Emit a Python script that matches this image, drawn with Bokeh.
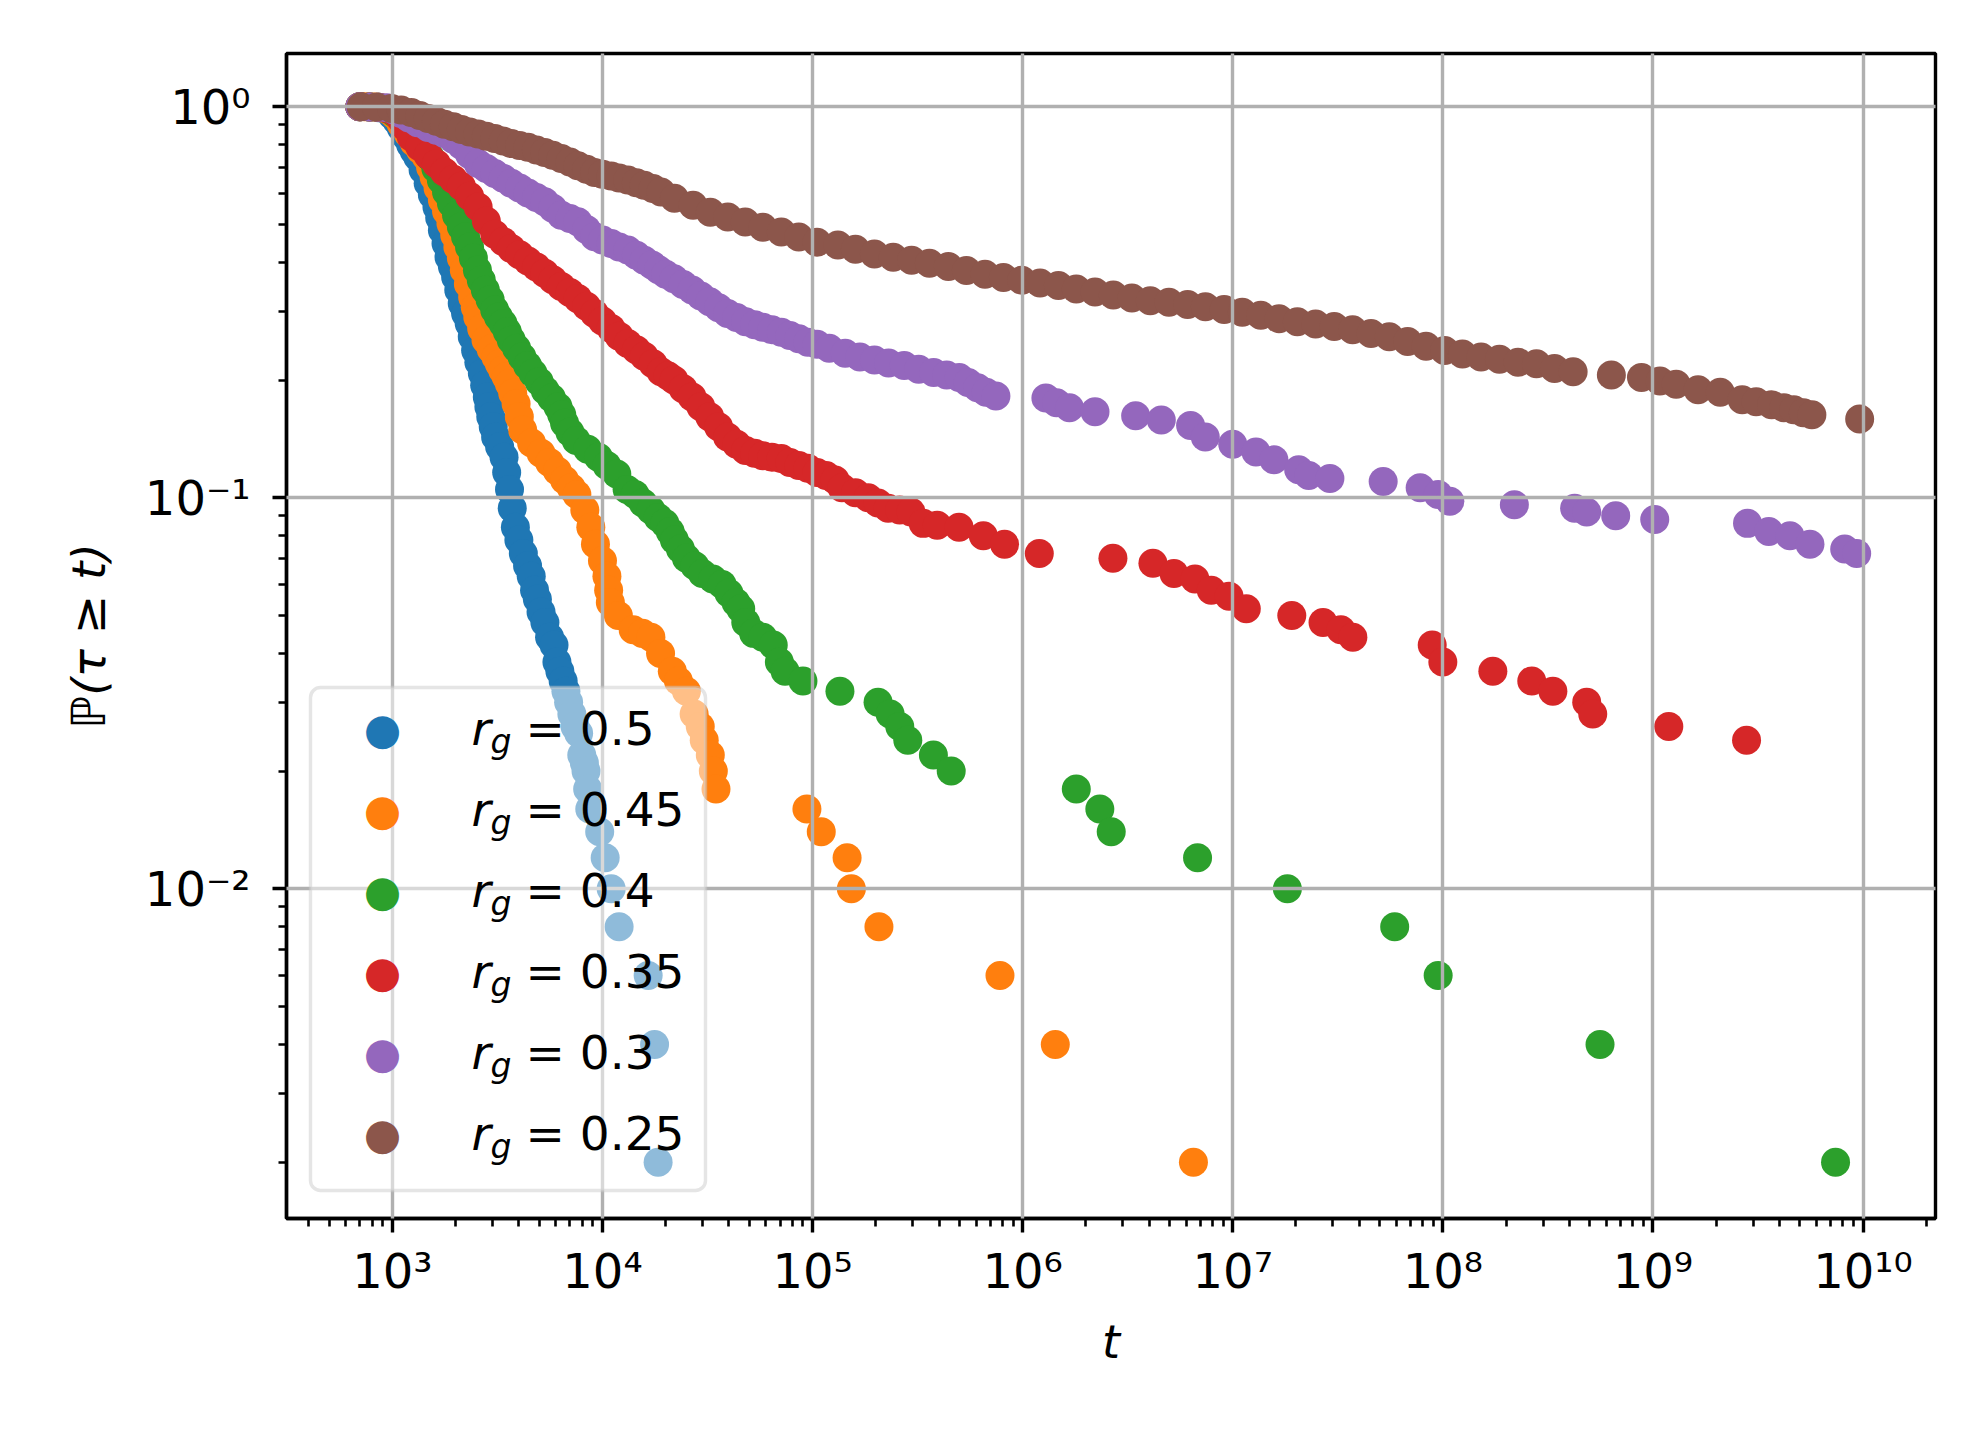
from bokeh.plotting import figure
from bokeh.models import Range1d, FixedTicker, CustomJSTickFormatter, Label, BoxAnnotation
from bokeh.embed import file_html
from bokeh.resources import INLINE

FONT = "DejaVu Sans"

# ---------------- data ----------------
labels = ["0.5", "0.45", "0.4", "0.35", "0.3", "0.25"]
colors = ["#1f77b4", "#ff7f0e", "#2ca02c", "#d62728", "#9467bd", "#8c564b"]

t_blue = [7.0e2, 7.8e2, 8.6e2, 9.4e2, 1.0e3, 1.05e3, 1.1e3, 1.16e3, 1.22e3, 1.27e3, 1.32e3,
          1.40e3, 1.48e3, 1.55e3, 1.63e3, 1.68e3, 1.73e3, 1.80e3, 1.86e3, 1.93e3, 2.0e3, 2.07e3,
          2.15e3, 2.23e3, 2.32e3, 2.40e3, 2.49e3, 2.58e3, 2.68e3, 2.75e3, 2.83e3, 2.88e3, 2.94e3,
          3.02e3, 3.10e3, 3.24e3, 3.40e3, 3.50e3, 3.61e3, 3.72e3, 3.85e3, 4.0e3, 4.2e3, 4.4e3,
          4.58e3, 4.75e3, 4.9e3, 5.1e3, 5.32e3, 5.6e3, 5.88e3, 6.07e3, 6.27e3, 6.5e3, 6.7e3,
          6.9e3, 7.15e3, 7.4e3, 7.7e3, 7.97e3, 8.2e3, 8.35e3, 8.5e3, 8.7e3, 9.7e3, 1.03e4,
          1.1e4, 1.2e4, 1.65e4, 1.77e4, 1.84e4]
p_blue = [1.0, 0.998, 0.994, 0.982, 0.95, 0.92, 0.885, 0.84, 0.80, 0.77, 0.744,
          0.69, 0.637, 0.595, 0.554, 0.52, 0.483, 0.447, 0.413, 0.39, 0.367, 0.340,
          0.314, 0.296, 0.279, 0.258, 0.238, 0.222, 0.208, 0.194, 0.181, 0.171, 0.161,
          0.152, 0.143, 0.135, 0.127, 0.116, 0.105, 0.094, 0.084, 0.078, 0.072, 0.067,
          0.063, 0.058, 0.055, 0.051, 0.048, 0.044, 0.042, 0.038, 0.036, 0.034, 0.032,
          0.030, 0.028, 0.026, 0.025, 0.022, 0.021, 0.020, 0.018, 0.016, 0.014, 0.012,
          0.010, 0.008, 0.006, 0.004, 0.002]

t_orange = [7.0e2, 7.4e2, 8.2e2, 9.0e2, 9.7e2, 1.03e3, 1.1e3, 1.19e3, 1.27e3, 1.36e3,
            1.45e3, 1.52e3, 1.58e3, 1.65e3, 1.73e3, 1.81e3, 1.90e3, 1.98e3, 2.05e3, 2.13e3,
            2.20e3, 2.30e3, 2.41e3, 2.48e3, 2.55e3, 2.66e3, 2.79e3, 2.95e3, 3.11e3, 3.23e3,
            3.35e3, 3.48e3, 3.60e3, 3.74e3, 3.88e3, 4.02e3, 4.17e3, 4.6e3, 5.1e3, 5.6e3,
            6.1e3, 6.6e3, 7.1e3, 7.55e3, 8.24e3, 8.8e3, 9.26e3, 1.0e4, 1.05e4, 1.07e4,
            1.09e4, 1.19e4, 1.4e4, 1.55e4, 1.70e4, 1.89e4, 2.15e4, 2.3e4, 2.51e4, 2.73e4,
            2.92e4, 3.05e4, 3.26e4, 3.37e4, 3.47e4, 9.4e4, 1.1e5, 1.46e5, 1.53e5, 2.07e5,
            7.8e5, 1.43e6, 6.5e6]
p_orange = [1.0, 1.0, 0.998, 0.992, 0.975, 0.95, 0.905, 0.854, 0.81, 0.775,
            0.744, 0.70, 0.661, 0.62, 0.577, 0.54, 0.503, 0.47, 0.438, 0.41,
            0.382, 0.352, 0.326, 0.307, 0.290, 0.271, 0.253, 0.24, 0.229, 0.22,
            0.212, 0.204, 0.196, 0.185, 0.174, 0.161, 0.149, 0.138, 0.130, 0.123,
            0.117, 0.111, 0.106, 0.102, 0.093, 0.084, 0.076, 0.069, 0.063, 0.058,
            0.054, 0.050, 0.046, 0.045, 0.044, 0.040, 0.036, 0.034, 0.032, 0.028,
            0.026, 0.024, 0.022, 0.020, 0.018, 0.016, 0.014, 0.012, 0.010, 0.008,
            0.006, 0.004, 0.002]

t_green = [7.0e2, 7.8e2, 8.6e2, 9.4e2, 1.02e3, 1.1e3, 1.17e3, 1.23e3, 1.37e3, 1.51e3,
           1.61e3, 1.71e3, 1.81e3, 1.91e3, 2.02e3, 2.13e3, 2.23e3, 2.33e3, 2.43e3, 2.54e3,
           2.65e3, 2.77e3, 2.92e3, 3.07e3, 3.2e3, 3.36e3, 3.52e3, 3.68e3, 3.9e3, 4.14e3,
           4.4e3, 4.67e3, 5.0e3, 5.34e3, 5.72e3, 6.14e3, 6.4e3, 6.6e3, 7.0e3, 7.5e3,
           8.5e3, 9.57e3, 1.05e4, 1.17e4, 1.31e4, 1.43e4, 1.56e4, 1.70e4, 1.84e4, 1.98e4,
           2.1e4, 2.20e4, 2.35e4, 2.51e4, 2.75e4, 2.99e4, 3.35e4, 3.71e4, 4.0e4, 4.32e4,
           4.55e4, 4.81e4, 5.24e4, 5.8e4, 6.5e4, 6.95e4, 7.4e4, 9.0e4, 1.35e5, 2.05e5,
           2.34e5, 2.6e5, 2.84e5, 3.76e5, 4.57e5, 1.8e6, 2.33e6, 2.64e6, 6.8e6, 1.82e7,
           5.9e7, 9.5e7, 5.6e8, 7.4e9]
p_green = [1.0, 0.998, 0.996, 0.99, 0.965, 0.935, 0.9, 0.871, 0.81, 0.744,
           0.695, 0.649, 0.605, 0.566, 0.528, 0.493, 0.465, 0.438, 0.41, 0.382,
           0.36, 0.340, 0.321, 0.302, 0.29, 0.279, 0.266, 0.253, 0.241, 0.229,
           0.218, 0.208, 0.198, 0.188, 0.18, 0.171, 0.163, 0.155, 0.147, 0.140,
           0.133, 0.127, 0.121, 0.115, 0.105, 0.102, 0.097, 0.093, 0.089, 0.086,
           0.082, 0.078, 0.074, 0.070, 0.067, 0.064, 0.062, 0.060, 0.057, 0.054,
           0.052, 0.048, 0.045, 0.044, 0.042, 0.038, 0.036, 0.034, 0.032, 0.030,
           0.028, 0.026, 0.024, 0.022, 0.020, 0.018, 0.016, 0.014, 0.012, 0.010,
           0.008, 0.006, 0.004, 0.002]

t_red = [7.0e2, 7.8e2, 8.6e2, 9.4e2, 1.02e3, 1.1e3, 1.16e3, 1.23e3, 1.35e3, 1.48e3,
         1.62e3, 1.77e3, 1.95e3, 2.13e3, 2.33e3, 2.56e3, 2.8e3, 3.07e3, 3.37e3, 3.68e3,
         4.03e3, 4.42e3, 4.85e3, 5.31e3, 5.8e3, 6.37e3, 7.0e3, 7.64e3, 8.4e3, 9.17e3,
         1.0e4, 1.1e4, 1.2e4, 1.32e4, 1.45e4, 1.58e4, 1.74e4, 1.90e4, 2.05e4, 2.19e4,
         2.42e4, 2.67e4, 2.94e4, 3.24e4, 3.57e4, 3.94e4, 4.35e4, 4.8e4, 5.3e4, 5.8e4,
         6.4e4, 7.1e4, 7.8e4, 8.6e4, 9.5e4, 1.05e5, 1.16e5, 1.28e5, 1.38e5, 1.6e5,
         1.84e5, 2.05e5, 2.29e5, 2.6e5, 2.94e5, 3.36e5, 3.92e5, 4.98e5, 6.5e5, 8.2e5,
         1.2e6, 2.69e6, 4.17e6, 5.25e6, 6.61e6, 7.9e6, 9.6e6, 1.16e7, 1.91e7, 2.69e7,
         3.27e7, 3.73e7, 8.9e7, 1.0e8, 1.73e8, 2.65e8, 3.34e8, 4.84e8, 5.17e8, 1.19e9,
         2.79e9]
p_red = [1.0, 0.998, 0.996, 0.99, 0.97, 0.93, 0.885, 0.837, 0.79, 0.751,
         0.715, 0.681, 0.652, 0.626, 0.59, 0.554, 0.51, 0.472, 0.452, 0.434,
         0.418, 0.403, 0.389, 0.375, 0.361, 0.347, 0.335, 0.323, 0.309, 0.296,
         0.283, 0.271, 0.259, 0.248, 0.239, 0.230, 0.220, 0.210, 0.205, 0.200,
         0.190, 0.181, 0.171, 0.161, 0.152, 0.143, 0.137, 0.132, 0.130, 0.128,
         0.127, 0.126, 0.123, 0.121, 0.119, 0.116, 0.114, 0.111, 0.106, 0.103,
         0.100, 0.097, 0.094, 0.093, 0.092, 0.086, 0.085, 0.084, 0.080, 0.076,
         0.072, 0.070, 0.068, 0.064, 0.062, 0.058, 0.056, 0.052, 0.050, 0.048,
         0.046, 0.044, 0.042, 0.038, 0.036, 0.034, 0.032, 0.030, 0.028, 0.026,
         0.024]

t_purple = [7.0e2, 7.8e2, 8.6e2, 9.4e2, 1.02e3, 1.1e3, 1.2e3, 1.32e3, 1.48e3, 1.62e3,
            1.77e3, 1.95e3, 2.13e3, 2.33e3, 2.56e3, 2.8e3, 3.07e3, 3.37e3, 3.68e3, 4.03e3,
            4.42e3, 4.85e3, 5.31e3, 5.8e3, 6.37e3, 7.0e3, 7.64e3, 8.4e3, 9.17e3, 1.0e4,
            1.1e4, 1.2e4, 1.32e4, 1.45e4, 1.58e4, 1.72e4, 1.85e4, 2.0e4, 2.19e4, 2.42e4,
            2.67e4, 2.94e4, 3.24e4, 3.57e4, 3.94e4, 4.35e4, 4.8e4, 5.3e4, 5.8e4, 6.4e4,
            7.1e4, 7.8e4, 8.6e4, 9.5e4, 1.05e5, 1.2e5, 1.43e5, 1.68e5, 1.97e5, 2.3e5,
            2.73e5, 3.2e5, 3.77e5, 4.35e5, 4.99e5, 5.5e5, 6.1e5, 6.7e5, 7.46e5, 1.29e6,
            1.45e6, 1.67e6, 2.21e6, 3.45e6, 4.57e6, 6.3e6, 7.4e6, 1.0e7, 1.29e7, 1.57e7,
            2.06e7, 2.3e7, 2.9e7, 5.2e7, 7.8e7, 9.5e7, 1.08e8, 2.19e8, 4.24e8, 4.84e8,
            6.65e8, 1.02e9, 2.82e9, 3.56e9, 4.49e9, 5.59e9, 8.18e9, 9.33e9]
p_purple = [1.0, 0.998, 0.996, 0.994, 0.98, 0.96, 0.935, 0.91, 0.885, 0.87,
            0.854, 0.825, 0.797, 0.755, 0.716, 0.695, 0.675, 0.656, 0.637, 0.62,
            0.602, 0.586, 0.571, 0.55, 0.528, 0.518, 0.508, 0.485, 0.465, 0.456,
            0.447, 0.438, 0.430, 0.417, 0.405, 0.394, 0.383, 0.373, 0.363, 0.351,
            0.340, 0.328, 0.317, 0.306, 0.296, 0.289, 0.282, 0.277, 0.273, 0.269,
            0.265, 0.260, 0.255, 0.250, 0.247, 0.241, 0.234, 0.229, 0.225, 0.221,
            0.218, 0.213, 0.209, 0.206, 0.203, 0.197, 0.191, 0.186, 0.182, 0.180,
            0.175, 0.170, 0.166, 0.162, 0.158, 0.153, 0.143, 0.137, 0.131, 0.125,
            0.118, 0.114, 0.112, 0.110, 0.106, 0.102, 0.098, 0.096, 0.094, 0.092,
            0.090, 0.088, 0.086, 0.082, 0.080, 0.076, 0.074, 0.072]

t_brown = [7.1e2, 8.4e2, 9.9e2, 1.1e3, 1.23e3, 1.35e3, 1.48e3, 1.62e3, 1.77e3, 1.95e3,
           2.13e3, 2.33e3, 2.56e3, 2.8e3, 3.07e3, 3.37e3, 3.68e3, 4.03e3, 4.42e3, 4.85e3,
           5.31e3, 5.8e3, 6.37e3, 7.0e3, 7.64e3, 8.4e3, 9.17e3, 1.0e4, 1.1e4, 1.2e4,
           1.32e4, 1.45e4, 1.58e4, 1.74e4, 1.90e4, 2.2e4, 2.7e4, 3.26e4, 3.95e4, 4.78e4,
           5.8e4, 7.1e4, 8.6e4, 1.05e5, 1.32e5, 1.6e5, 1.97e5, 2.42e5, 2.96e5, 3.6e5,
           4.43e5, 5.4e5, 6.62e5, 8.1e5, 9.9e5, 1.21e6, 1.48e6, 1.8e6, 2.21e6, 2.7e6,
           3.31e6, 4.05e6, 4.97e6, 6.1e6, 7.41e6, 9.1e6, 1.11e7, 1.36e7, 1.66e7, 2.03e7,
           2.48e7, 3.04e7, 3.72e7, 4.55e7, 5.56e7, 6.8e7, 8.32e7, 1.02e8, 1.24e8, 1.52e8,
           1.86e8, 2.28e8, 2.79e8, 3.4e8, 4.17e8, 6.34e8, 8.82e8, 1.08e9, 1.29e9, 1.64e9,
           2.09e9, 2.66e9, 3.1e9, 3.67e9, 4.2e9, 4.68e9, 5.2e9, 5.71e9, 9.64e9]
p_brown = [1.0, 0.998, 0.989, 0.98, 0.966, 0.95, 0.933, 0.918, 0.902, 0.888,
           0.874, 0.862, 0.851, 0.840, 0.829, 0.817, 0.805, 0.796, 0.787, 0.775,
           0.764, 0.751, 0.737, 0.722, 0.706, 0.692, 0.679, 0.672, 0.665, 0.657,
           0.649, 0.639, 0.630, 0.618, 0.605, 0.583, 0.560, 0.537, 0.522, 0.507,
           0.492, 0.478, 0.464, 0.450, 0.443, 0.432, 0.420, 0.412, 0.405, 0.398,
           0.390, 0.381, 0.373, 0.366, 0.360, 0.354, 0.349, 0.342, 0.336, 0.330,
           0.324, 0.319, 0.316, 0.312, 0.308, 0.303, 0.298, 0.293, 0.287, 0.282,
           0.278, 0.274, 0.269, 0.263, 0.258, 0.251, 0.244, 0.238, 0.233, 0.229,
           0.226, 0.222, 0.220, 0.214, 0.210, 0.206, 0.203, 0.199, 0.195, 0.189,
           0.186, 0.178, 0.176, 0.173, 0.170, 0.168, 0.165, 0.163, 0.159]

x_major = [1e3, 1e4, 1e5, 1e6, 1e7, 1e8, 1e9, 1e10]
y_major = [1e-2, 1e-1, 1e0]

series = [(t_blue, p_blue), (t_orange, p_orange), (t_green, p_green),
          (t_red, p_red), (t_purple, p_purple), (t_brown, p_brown)]

# ---------------- figure ----------------
p = figure(width=1960, height=1420, x_axis_type="log", y_axis_type="log",
           x_range=Range1d(10 ** 2.496, 10 ** 10.345),
           y_range=Range1d(10 ** -2.843, 10 ** 0.136),
           toolbar_location=None, output_backend="svg",
           min_border_left=286, min_border_right=25,
           min_border_top=53, min_border_bottom=202)
p.background_fill_color = "white"
p.border_fill_color = "white"
p.outline_line_color = "black"
p.outline_line_width = 3.4

x_minor = [m * 10.0 ** k for k in range(2, 11) for m in range(2, 10)]
y_minor = [m * 10.0 ** k for k in range(-3, 0) for m in range(2, 10)]
p.xaxis[0].ticker = FixedTicker(ticks=x_major, minor_ticks=x_minor)
p.yaxis[0].ticker = FixedTicker(ticks=y_major, minor_ticks=y_minor)

fmt_code = """
const e = Math.round(Math.log10(tick));
const sup = {"0":"\u2070","1":"\u00b9","2":"\u00b2","3":"\u00b3","4":"\u2074",
             "5":"\u2075","6":"\u2076","7":"\u2077","8":"\u2078","9":"\u2079","-":"\u207b"};
return "10" + String(e).split("").map(c => sup[c]).join("");
"""
for ax in (p.xaxis[0], p.yaxis[0]):
    ax.formatter = CustomJSTickFormatter(code=fmt_code)
    ax.major_label_text_font = FONT
    ax.major_label_text_font_size = "48px"
    ax.major_label_text_color = "black"
    ax.axis_line_color = "black"
    ax.axis_line_width = 3.4
    ax.major_tick_line_color = "black"
    ax.major_tick_line_width = 3.4
    ax.major_tick_out = 14
    ax.major_tick_in = 0
    ax.minor_tick_line_color = "black"
    ax.minor_tick_line_width = 2.6
    ax.minor_tick_out = 8
    ax.minor_tick_in = 0
    ax.axis_label_text_font = FONT
    ax.axis_label_text_font_style = "italic"
    ax.axis_label_text_color = "black"

p.xaxis[0].axis_label = "t"
p.xaxis[0].axis_label_text_font_size = "46px"
p.xaxis[0].major_label_standoff = 10
p.xaxis[0].axis_label_standoff = 13
p.yaxis[0].axis_label = "\u2119(\u03c4 \u2265 t)"
p.yaxis[0].axis_label_text_font_size = "47px"
p.yaxis[0].major_label_standoff = 22
p.yaxis[0].axis_label_standoff = 26

for g in (p.xgrid[0], p.ygrid[0]):
    g.grid_line_color = "#b0b0b0"
    g.grid_line_width = 3.4
    g.level = "guide"

for (t, pv), c in zip(series, colors):
    p.scatter(t, pv, size=29, marker="circle", fill_color=c, line_color=None)

# ---------------- legend (drawn by hand, frame-relative screen units) ----------------
p.add_layout(BoxAnnotation(left=24, right=419, bottom=28, top=531,
                           left_units="screen", right_units="screen",
                           top_units="screen", bottom_units="screen",
                           fill_color="white", fill_alpha=0.5,
                           line_color="#cccccc", line_alpha=0.5, line_width=3.4,
                           border_radius=10))
for i, (lab, c) in enumerate(zip(labels, colors)):
    row = 81 * i
    p.add_layout(Label(x=96, y=490 - row, x_units="screen", y_units="screen",
                       text="\u25cf", text_color=c, text_align="center",
                       text_baseline="middle", text_font=FONT, text_font_size="43px"))
    p.add_layout(Label(x=185, y=490 - row, x_units="screen", y_units="screen",
                       text="r", text_font=FONT, text_font_style="italic",
                       text_font_size="47px", text_baseline="middle", text_color="black"))
    p.add_layout(Label(x=204, y=477.5 - row, x_units="screen", y_units="screen",
                       text="g", text_font=FONT, text_font_style="italic",
                       text_font_size="33px", text_baseline="middle", text_color="black"))
    p.add_layout(Label(x=239, y=490 - row, x_units="screen", y_units="screen",
                       text="= " + lab, text_font=FONT,
                       text_font_size="47px", text_baseline="middle", text_color="black"))

open("out.html", "w").write(file_html(p, INLINE, title="survival"))
